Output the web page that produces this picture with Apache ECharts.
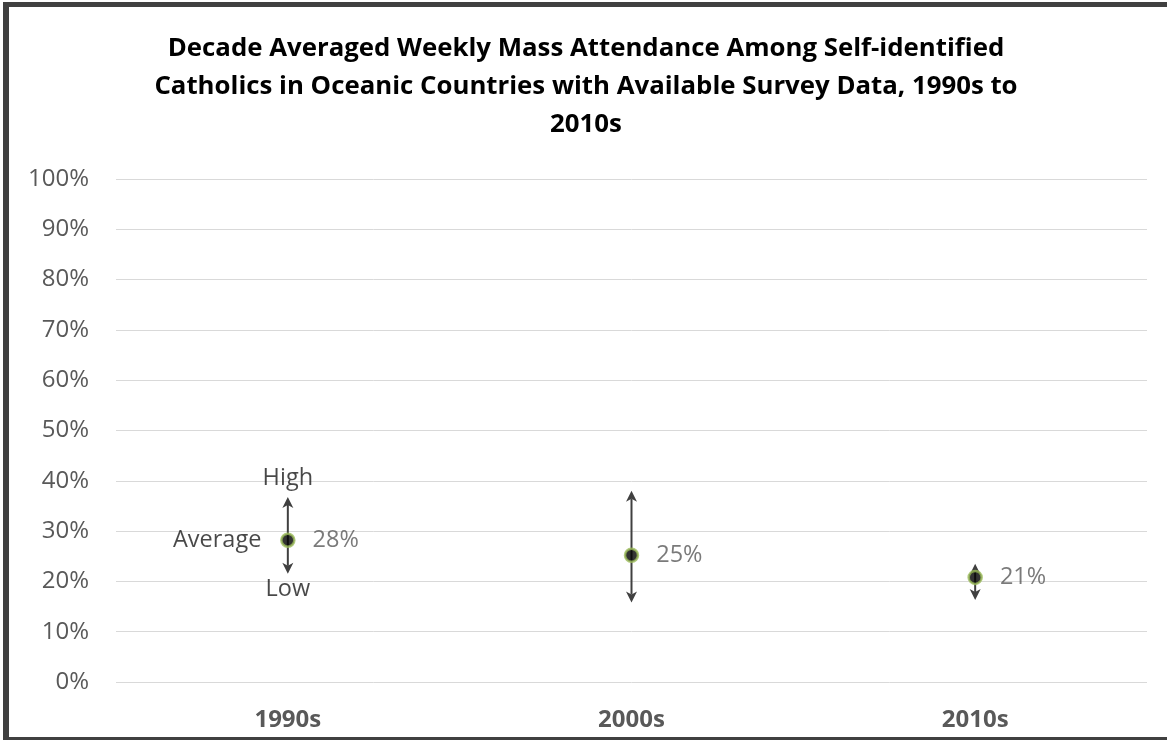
<!DOCTYPE html>
<html>
<head>
<meta charset="utf-8">
<script src="https://cdn.jsdelivr.net/npm/echarts@6/dist/echarts.min.js"></script>
<style>
  html, body { margin: 0; padding: 0; background: #fff; }
  #chart { width: 1167px; height: 740px; }
</style>
</head>
<body>
<div id="chart"></div>
<script>
const titleText = 'Decade Averaged Weekly Mass Attendance Among Self-identified\nCatholics in Oceanic Countries with Available Survey Data, 1990s to\n2010s';
const categories = ['1990s', '2000s', '2010s'];
const avgValues = [28.2, 25.2, 20.8];
const highValues = [36.8, 38.0, 23.5];
const lowValues = [21.5, 15.8, 16.3];
const yTicks = [0, 100, 10];
const noteLabels = ['High', 'Average', 'Low'];

const FONT = '"Open Sans"';
const ARROW = '#404040';

(function() {
    const chart = echarts.init(document.getElementById('chart'));

    // arrows: shaft from low to high, heads at both ends
    function renderRange(params, api) {
        const top = api.coord([api.value(0), api.value(2)]);
        const bot = api.coord([api.value(0), api.value(1)]);
        const x = top[0], hw = 5.5, hl = 11, notch = 8;
        return {
            type: 'group',
            children: [
                { type: 'line', shape: { x1: x, y1: top[1] + notch, x2: x, y2: bot[1] - notch },
                  style: { stroke: ARROW, lineWidth: 2 } },
                { type: 'polygon', shape: { points: [[x, top[1]], [x + hw, top[1] + hl], [x, top[1] + notch], [x - hw, top[1] + hl]] },
                  style: { fill: ARROW } },
                { type: 'polygon', shape: { points: [[x, bot[1]], [x + hw, bot[1] - hl], [x, bot[1] - notch], [x - hw, bot[1] - hl]] },
                  style: { fill: ARROW } }
            ]
        };
    }

    const noteStyle = { show: true, color: '#1a1a1a', fontFamily: FONT, fontSize: 23.5 };

    chart.setOption({
        animation: false,
        title: {
            text: titleText,
            left: 581,
            top: 25,
            textAlign: 'center',
            textStyle: { fontFamily: FONT, fontWeight: 'bold', fontSize: 25.8, color: '#000', lineHeight: 38 }
        },
        grid: { left: 116, right: 20, top: 179, bottom: 58, containLabel: false },
        xAxis: {
            type: 'category',
            data: categories,
            axisLine: { show: false },
            axisTick: { show: false },
            axisLabel: { color: '#595959', fontFamily: FONT, fontWeight: 'bold', fontSize: 24, margin: 26 }
        },
        yAxis: {
            type: 'value',
            min: yTicks[0],
            max: yTicks[1],
            interval: yTicks[2],
            axisLine: { show: false },
            axisTick: { show: false },
            splitLine: { lineStyle: { color: '#d9d9d9', width: 1 } },
            axisLabel: { color: '#595959', fontFamily: FONT, fontSize: 24, margin: 27, formatter: '{value}%' }
        },
        series: [
            {
                type: 'custom',
                name: 'range',
                renderItem: renderRange,
                data: categories.map((c, i) => [i, lowValues[i], highValues[i]]),
                silent: true,
                z: 2
            },
            {
                type: 'scatter',
                name: 'average',
                data: categories.map((c, i) => [i, avgValues[i]]),
                symbol: 'circle',
                symbolSize: 13,
                itemStyle: { color: '#000', borderColor: '#9bbb59', borderWidth: 2.5 },
                label: {
                    show: true,
                    position: 'right',
                    distance: 17,
                    color: '#595959',
                    fontFamily: FONT,
                    fontSize: 23.5,
                    formatter: p => Math.round(p.value[1]) + '%'
                },
                z: 3
            },
            {
                type: 'scatter',
                name: 'notes',
                symbolSize: 1,
                itemStyle: { color: 'rgba(0,0,0,0)' },
                silent: true,
                data: [
                    { value: [0, highValues[0]], label: Object.assign({}, noteStyle, { position: 'top', distance: 6, formatter: noteLabels[0] }) },
                    { value: [0, avgValues[0]], label: Object.assign({}, noteStyle, { position: 'left', distance: 26, formatter: noteLabels[1] }) },
                    { value: [0, lowValues[0]], label: Object.assign({}, noteStyle, { position: 'bottom', distance: 3, formatter: noteLabels[2] }) }
                ],
                z: 4
            }
        ],
        graphic: [
            { type: 'rect', shape: { x: 3, y: 2, width: 6, height: 738 }, style: { fill: '#404040' } },
            { type: 'rect', shape: { x: 3, y: 2, width: 1164, height: 5 }, style: { fill: '#404040' } },
            { type: 'rect', shape: { x: 3, y: 737, width: 1164, height: 3 }, style: { fill: '#404040' } }
        ]
    });
})();
</script>
</body>
</html>
